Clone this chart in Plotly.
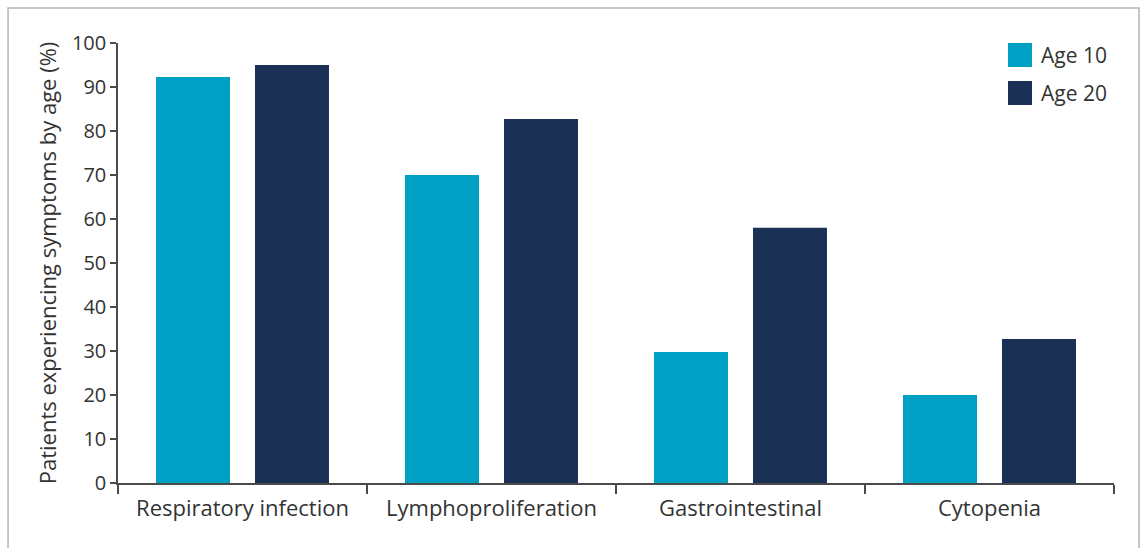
import plotly.graph_objects as go

# Symptom prevalence by age group
categories = ["Respiratory infection", "Lymphoproliferation", "Gastrointestinal", "Cytopenia"]
age10_values = [92.3, 70.0, 29.8, 20.0]
age20_values = [95.0, 82.7, 58.0, 32.7]
series_names = ["Age 10", "Age 20"]
y_ticks = [0, 10, 20, 30, 40, 50, 60, 70, 80, 90, 100]

color_age10 = "#009FC4"
color_age20 = "#1A3055"
text_color = "#333333"
axis_color = "#4a4a4a"
font_family = "Open Sans"

fig = go.Figure()
fig.add_trace(go.Bar(x=categories, y=age10_values, name=series_names[0],
                     marker=dict(color=color_age10, line=dict(width=0)), showlegend=False))
fig.add_trace(go.Bar(x=categories, y=age20_values, name=series_names[1],
                     marker=dict(color=color_age20, line=dict(width=0)), showlegend=False))

# Legend drawn as swatches + labels in the upper right
shapes = []
annotations = []
for i, (name, col) in enumerate(zip(series_names, [color_age10, color_age20])):
    y_top = 1.0 - i * 0.0864
    shapes.append(dict(type="rect", xref="paper", yref="paper",
                       x0=0.8936, x1=0.9177, y0=y_top - 0.0545, y1=y_top,
                       fillcolor=col, line=dict(width=0)))
    annotations.append(dict(xref="paper", yref="paper", x=0.9245, y=y_top - 0.0273,
                            text=name, showarrow=False, xanchor="left", yanchor="middle",
                            font=dict(size=21, color=text_color, family=font_family)))

# Outer frame
shapes.append(dict(type="rect", xref="paper", yref="paper",
                   x0=-0.1104, x1=1.0251, y0=-0.16, y1=1.0795,
                   line=dict(color="#b5b5b5", width=1.5), fillcolor="rgba(0,0,0,0)", layer="below"))

fig.update_layout(
    width=1147, height=548,
    margin=dict(l=118, r=33, t=43, b=65),
    paper_bgcolor="white", plot_bgcolor="white",
    barmode="group", bargap=0.205, bargroupgap=0.2525,
    font=dict(family=font_family, color=text_color, size=21),
    shapes=shapes, annotations=annotations,
    showlegend=False,
)
fig.update_xaxes(
    type="category", tickson="boundaries",
    showline=True, linecolor=axis_color, linewidth=1.5,
    ticks="outside", ticklen=9, tickwidth=1.5, tickcolor=axis_color,
    tickfont=dict(size=22, color=text_color), ticklabelstandoff=5,
    showgrid=False, zeroline=False,
)
fig.update_yaxes(
    range=[0, 100], tickvals=y_ticks,
    showline=True, linecolor=axis_color, linewidth=1.5,
    ticks="outside", ticklen=6, tickwidth=1.5, tickcolor=axis_color,
    tickfont=dict(size=20, color=text_color),
    showgrid=False, zeroline=False,
    title=dict(text="Patients experiencing symptoms by age (%)",
               font=dict(size=22, color=text_color), standoff=9),
)

fig.write_html("out.html")
